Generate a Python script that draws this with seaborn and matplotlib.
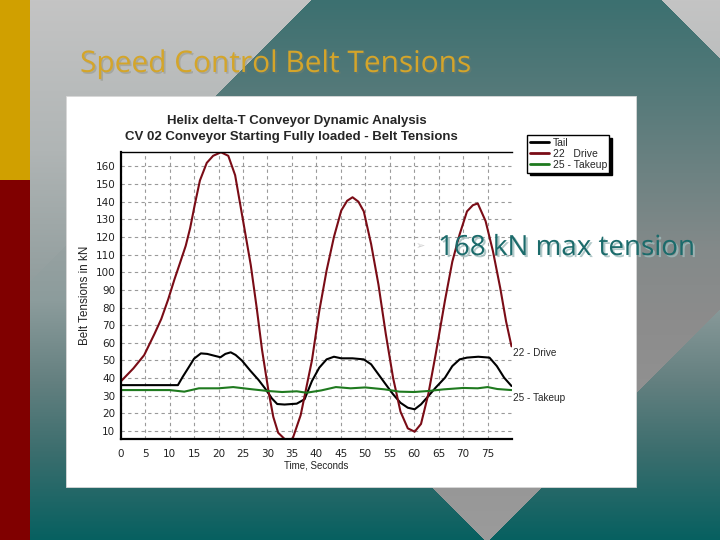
import numpy as np
import pandas as pd
import seaborn as sns
import matplotlib
matplotlib.use("Agg")
from matplotlib import pyplot as plt
from matplotlib.lines import Line2D
from matplotlib.patches import Rectangle
import matplotlib.patheffects as pe

# belt tension traces (time in s, tension in kN)
tail_t = [0, 11.7, 12.7, 14, 15, 16.4, 17.7, 19.1, 20.4, 21.4, 22.5, 23.5, 24.8, 26.5,
          28.2, 29.5, 30.9, 32, 33.5, 36, 37.6, 39.1, 40.6, 42.1, 43.6, 45.1, 47.4, 49.7,
          51.2, 52.7, 54.2, 55.7, 57.2, 58.7, 60.1, 61.4, 62.9, 64.4, 66.3, 67.8, 69.3,
          70.8, 73.1, 75.4, 76.9, 78.4, 79.9]
tail_kn = [36, 36, 40.8, 46.5, 51, 54, 53.7, 52.7, 51.8, 53.7, 54.6, 53.1, 49.9, 44.2,
           38.9, 34.2, 28.5, 25.3, 25, 25.5, 28, 38.3, 45.9, 50.6, 52.1, 51.2, 51.2, 50.6,
           47.8, 42.1, 36.4, 30.8, 26, 23.2, 22.3, 25.1, 29.8, 34.6, 40.2, 46.8, 50.6,
           51.6, 52.1, 51.6, 46.8, 40.2, 35.5]

drive_t = [0, 2.6, 4.8, 6.9, 8.3, 9.7, 11, 12.1, 13.3, 14.2, 15.2, 16.2, 17.6, 18.9, 20.5,
           22, 23.4, 25.1, 26.6, 27.8, 28.9, 30.2, 31.2, 32.2, 33.5, 34.3, 35.2, 36.8, 39.1,
           40.6, 42.1, 43.6, 45.1, 46.3, 47.4, 48.6, 49.7, 51.2, 52.7, 54.2, 55.7, 57.2,
           58.7, 60.1, 61.4, 62.9, 64.4, 66.3, 67.8, 69.3, 70.8, 72, 73, 74.6, 76.1, 77.6,
           78.8, 79.9]
drive_kn = [38, 45.5, 53, 65, 73.5, 84.5, 96, 105, 115, 125, 139, 152, 162, 166, 168,
            166, 155, 128, 104, 80, 56, 33, 18, 9, 5.5, 4.5, 6, 19, 50,
            78, 101, 120, 135, 140.5, 142.5, 140, 134.5, 116, 93, 65, 40, 21,
            11.5, 9.6, 14, 31, 53.5, 84, 106, 121.5, 134.5, 138, 139, 129, 112, 91,
            72, 58]

takeup_t = [0, 10, 13, 16, 20, 23, 27, 30, 33, 36, 38, 41, 44, 47, 50, 54, 57, 60, 63,
            66, 70, 73, 75, 77, 79.9]
takeup_kn = [33.2, 33.2, 32.3, 34.2, 34.2, 34.9, 33.6, 32.7, 32.1, 32.5, 31.7, 33.0, 34.9,
             34.2, 34.7, 33.6, 32.3, 32.1, 32.7, 33.6, 34.4, 34.2, 34.9, 33.8, 33.2]

series_names = ["Tail", "22   Drive", "25 - Takeup"]
series_colors = ["#000000", "#7a0c16", "#1f7a1f"]
x_ticks = list(range(0, 80, 5))
y_ticks = list(range(10, 170, 10))

slide_title = "Speed Control Belt Tensions"
chart_title = ["Helix delta-T Conveyor Dynamic Analysis",
               "CV 02 Conveyor Starting Fully loaded - Belt Tensions"]
callout = "168 kN max tension"


def make_frame():
    parts = []
    for name, t, v in zip(series_names, [tail_t, drive_t, takeup_t],
                          [tail_kn, drive_kn, takeup_kn]):
        parts.append(pd.DataFrame({"time": t, "tension": v, "series": name}))
    return pd.concat(parts, ignore_index=True)


def ramp(y, stops):
    # piecewise colour ramp down the slide
    ys = [s[0] for s in stops]
    return np.stack([np.interp(y, ys, [s[1][i] for s in stops]) for i in range(3)], axis=-1)


def slide_background():
    yy, xx = np.mgrid[0:540, 0:720].astype(float)
    img = ramp(yy, [(0, (60, 112, 112)), (96, (86, 122, 122)), (240, (152, 162, 162)),
                    (300, (140, 156, 156)), (380, (100, 128, 128)), (450, (60, 110, 110)),
                    (540, (6, 96, 96))])
    grey = ramp(yy, [(0, (196, 196, 196)), (150, (176, 181, 181)), (280, (146, 158, 158))])
    mask = (xx + yy <= 310) | (xx - yy >= 662)
    img[mask] = grey[mask]
    diamond = ramp(yy, [(96, (86, 122, 122)), (250, (132, 138, 138)), (320, (140, 140, 140)),
                        (540, (155, 155, 155))])
    mask = (xx + yy <= 1028) & (yy - xx <= 55) & (yy >= 96) & (xx >= 300)
    img[mask] = diamond[mask]
    img[(xx < 30) & (yy < 180)] = (208, 160, 0)
    img[(xx < 30) & (yy >= 180)] = (128, 0, 0)
    return img / 255.0


def main():
    sns.set_style("white")
    plt.rcParams["font.family"] = ["Liberation Sans", "DejaVu Sans"]

    fig = plt.figure(figsize=(7.2, 5.4), dpi=100)

    bg = fig.add_axes([0, 0, 1, 1])
    bg.imshow(slide_background(), extent=(0, 720, 540, 0), aspect="auto")
    bg.set_xlim(0, 720)
    bg.set_ylim(540, 0)
    bg.axis("off")
    bg.add_patch(Rectangle((66, 96), 570, 391, facecolor="white", edgecolor="#d8d8d8", lw=0.6))
    bg.text(80, 72, slide_title, fontsize=21.5, color="#d4a52a", family="Open Sans",
            va="baseline", ha="left",
            path_effects=[pe.SimplePatchShadow(offset=(1.2, -1.2), shadow_rgbFace="#80806a", alpha=0.35),
                          pe.Normal()])

    ax = fig.add_axes([0.1676, 0.1865, 0.5435, 0.5315])
    ax.set_facecolor("white")
    df = make_frame()
    sns.lineplot(data=df, x="time", y="tension", hue="series", hue_order=series_names,
                 palette=dict(zip(series_names, series_colors)), estimator=None, sort=False,
                 linewidth=1.5, legend=False, ax=ax)

    ax.set_xlim(0, 80)
    ax.set_ylim(5.3, 168)
    ax.set_xticks(x_ticks)
    ax.set_yticks(y_ticks)
    ax.set_xticks(np.arange(0, 80, 1), minor=True)
    ax.set_yticks(np.arange(6, 168, 2), minor=True)
    ax.tick_params(axis="both", which="major", labelsize=7.5, colors="#222222", length=3,
                   width=0.8, direction="out")
    for lab in ax.get_xticklabels() + ax.get_yticklabels():
        lab.set_family("DejaVu Sans")
    ax.tick_params(axis="y", which="major", pad=1)
    ax.tick_params(axis="x", which="major", pad=4)
    ax.tick_params(axis="both", which="minor", length=2, width=0.6, direction="in", colors="#444444")
    ax.grid(True, which="major", color="#9a9a9a", linestyle=(0, (3, 3)), linewidth=0.8)
    ax.set_axisbelow(True)
    for side in ["left", "bottom"]:
        ax.spines[side].set_color("black")
        ax.spines[side].set_linewidth(1.6)
    ax.spines["top"].set_color("black")
    ax.spines["top"].set_linewidth(1.0)
    ax.spines["right"].set_visible(False)

    ax.set_xlabel("Time, Seconds", fontsize=7, color="#222222", labelpad=1)
    ax.set_ylabel("Belt Tensions in kN", fontsize=8.4, color="#222222", labelpad=3)

    side_tf = ax.get_yaxis_transform()
    ax.text(1.003, drive_kn[-1] - 4, "22 - Drive", transform=side_tf, fontsize=7.2,
            va="center", ha="left", clip_on=False)
    ax.text(1.003, takeup_kn[-1] - 4.5, "25 - Takeup", transform=side_tf, fontsize=7.2,
            va="center", ha="left", clip_on=False)

    fig.text(297 / 720, 1 - 121 / 540, chart_title[0], fontsize=9.5, fontweight="bold",
             ha="center", va="center")
    fig.text(291.5 / 720, 1 - 137 / 540, chart_title[1], fontsize=9.5, fontweight="bold",
             ha="center", va="center")

    handles = [Line2D([], [], color=c, lw=2) for c in series_colors]
    ax.legend(handles, series_names, loc="upper left", bbox_to_anchor=(527 / 720, 1 - 135 / 540),
              bbox_transform=fig.transFigure, fontsize=7.5, frameon=True, fancybox=False,
              edgecolor="black", framealpha=1, borderpad=0.25, labelspacing=0.12,
              handlelength=1.9, handletextpad=0.3, borderaxespad=0,
              shadow={"facecolor": "black", "edgecolor": "black", "alpha": 1})

    fig.text(420 / 720, 1 - 246 / 540, "\u27a2", fontsize=8, color="#d0d0d0",
             family="DejaVu Sans", ha="center", va="center")
    fig.text(438 / 720, 1 - 255 / 540, callout, fontsize=20, color="#1b6b6b",
             family="Open Sans", ha="left", va="baseline",
             path_effects=[pe.SimplePatchShadow(offset=(1.5, -1.5), shadow_rgbFace="#9fbcbc", alpha=0.8),
                           pe.Normal()])

    fig.savefig("out.png", dpi=100)


if __name__ == "__main__":
    main()
